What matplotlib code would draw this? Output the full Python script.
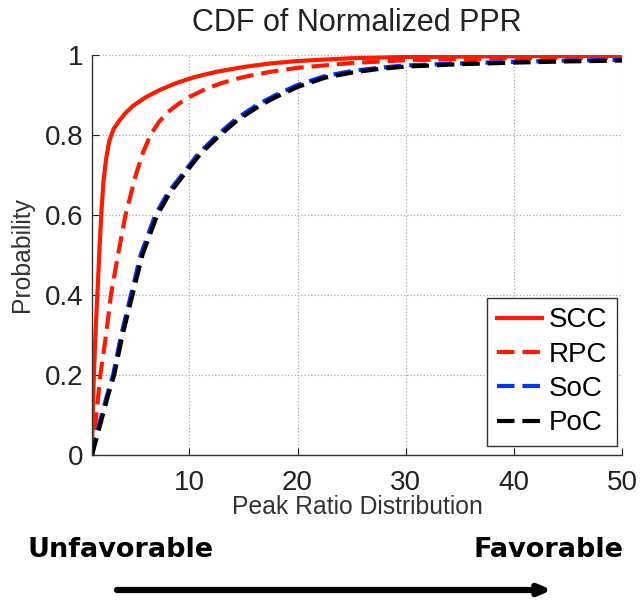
import numpy as np
import matplotlib.pyplot as plt
from matplotlib.ticker import FuncFormatter

plt.rcParams['font.family'] = ['Liberation Sans', 'DejaVu Sans']

# values
x_scc = [1, 1.05, 1.12, 1.2, 1.35, 1.53, 1.7, 1.85, 2.05, 2.3, 2.6, 3.0, 3.5, 4.1, 4.8,
         6.0, 7.3, 8.8, 10.5, 12.5, 15, 17.5, 20, 25, 30, 40, 50]
y_scc = [0.0, 0.08, 0.15, 0.22, 0.32, 0.42, 0.52, 0.6, 0.68, 0.74, 0.785, 0.815, 0.835, 0.855, 0.873,
         0.895, 0.913, 0.93, 0.945, 0.958, 0.97, 0.979, 0.985, 0.992, 0.995, 0.997, 0.998]

x_rpc = [1, 1.2, 1.4, 1.77, 2.3, 2.75, 3.4, 4.1, 5.05, 5.7, 6.4, 7.2, 8.0, 9.0, 10,
         11.5, 13, 15, 17.5, 20, 25, 30, 40, 50]
y_rpc = [0.0, 0.05, 0.1, 0.2, 0.3, 0.4, 0.5, 0.6, 0.7, 0.755, 0.8, 0.833, 0.857, 0.878, 0.895,
         0.915, 0.93, 0.945, 0.958, 0.968, 0.98, 0.987, 0.992, 0.994]

x_soc = [1, 1.4, 1.9, 2.4, 2.95, 3.7, 4.6, 5.5, 6.85, 8.0, 9.3, 10.8, 12.6, 14.3, 16.3,
         18, 20, 22.5, 25, 27.5, 30, 35, 40, 45, 50]
y_soc = [0.0, 0.05, 0.1, 0.15, 0.2, 0.3, 0.4, 0.5, 0.6, 0.655, 0.7, 0.752, 0.8, 0.84, 0.876,
         0.9, 0.925, 0.947, 0.96, 0.968, 0.974, 0.979, 0.983, 0.986, 0.988]

x_poc = [1, 1.5, 2.0, 2.5, 3.05, 3.82, 4.74, 5.66, 7.03, 8.2, 9.48, 11, 12.84, 14.5, 16.5,
         18, 20, 22.5, 25, 27.5, 30, 35, 40, 45, 50]
y_poc = [0.0, 0.05, 0.1, 0.15, 0.2, 0.3, 0.4, 0.5, 0.6, 0.655, 0.7, 0.752, 0.8, 0.838, 0.873,
         0.895, 0.92, 0.943, 0.956, 0.965, 0.971, 0.977, 0.981, 0.984, 0.986]

labels = ['SCC', 'RPC', 'SoC', 'PoC']

fig = plt.figure(figsize=(6.42, 6.09), dpi=100)
ax = fig.add_axes([92/642, 1 - 455/609, 530/642, 400/609])

dash = (0, (4.2, 1.9))
ax.plot(x_scc, y_scc, color='#ff1a00', lw=3, label=labels[0])
ax.plot(x_rpc, y_rpc, color='#ff1a00', lw=3, ls=dash, label=labels[1])
ax.plot(x_soc, y_soc, color='#0033ff', lw=3, ls=dash, label=labels[2])
ax.plot(x_poc, y_poc, color='black', lw=3, ls=dash, label=labels[3])

ax.set_xlim(1, 50)
ax.set_ylim(0, 1)
ax.set_xticks([10, 20, 30, 40, 50])
ax.set_yticks([0, 0.2, 0.4, 0.6, 0.8, 1])
ax.yaxis.set_major_formatter(FuncFormatter(lambda v, p: '%g' % v))
ax.tick_params(direction='in', length=5, width=0.8, labelsize=20, colors='#222222')
ax.tick_params(axis='x', pad=11)
ax.tick_params(axis='y', pad=6)
ax.grid(True, ls=':', color='#aaaaaa', lw=0.9)
for s in ['top', 'right']:
    ax.spines[s].set_visible(False)
for s in ['left', 'bottom']:
    ax.spines[s].set_color('#333333')
    ax.spines[s].set_linewidth(1.0)

ax.set_title('CDF of Normalized PPR', fontsize=22, color='#222222', pad=17)
ax.set_xlabel('Peak Ratio Distribution', fontsize=17.8, color='#333333', labelpad=-1)
ax.set_ylabel('Probability', fontsize=17.8, color='#333333', labelpad=8)

leg = ax.legend(loc='lower right', bbox_to_anchor=(0.99, 0.022), borderaxespad=0,
                fontsize=20, fancybox=False, framealpha=1, edgecolor='#333333',
                handlelength=1.6, handletextpad=0.25, labelspacing=0.3, borderpad=0.35)
leg.get_frame().set_linewidth(1.0)

fig.text(28/642, 1 - 557/609, 'Unfavorable', fontsize=19.5, fontweight='bold',
         family='DejaVu Sans', ha='left', va='baseline')
fig.text(623/642, 1 - 557/609, 'Favorable', fontsize=19.5, fontweight='bold',
         family='DejaVu Sans', ha='right', va='baseline')
ax.annotate('', xy=(552/642, 1 - 590/609), xytext=(117/642, 1 - 590/609),
            xycoords='figure fraction', textcoords='figure fraction',
            arrowprops=dict(arrowstyle='->,head_length=0.7,head_width=0.3',
                            color='black', lw=4.5, shrinkA=0, shrinkB=0),
            annotation_clip=False)

fig.savefig('out.png', dpi=100)
